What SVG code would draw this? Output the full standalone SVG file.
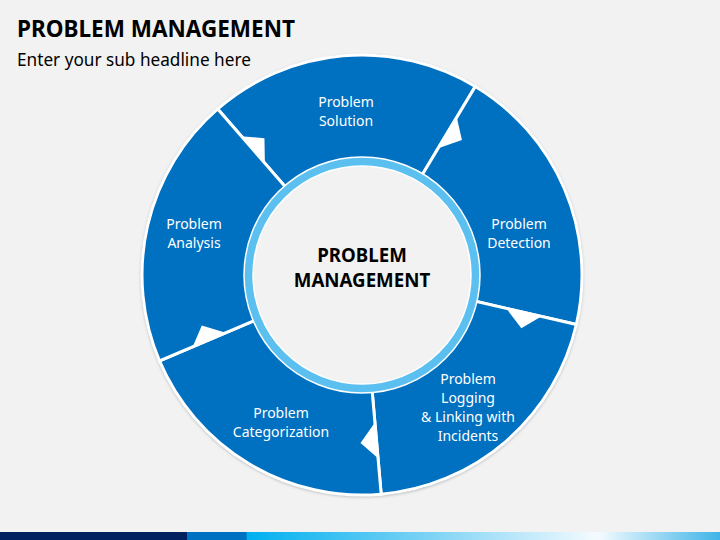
<svg xmlns="http://www.w3.org/2000/svg" width="720" height="540" viewBox="0 0 720 540">
<defs>
<linearGradient id="bar" x1="0" y1="0" x2="720" y2="0" gradientUnits="userSpaceOnUse">
<stop offset="0" stop-color="#002060"/>
<stop offset="0.259" stop-color="#002060"/>
<stop offset="0.26" stop-color="#0070c0"/>
<stop offset="0.342" stop-color="#0070c0"/>
<stop offset="0.343" stop-color="#00b0f0"/>
<stop offset="0.6" stop-color="#7fd3f5"/>
<stop offset="0.83" stop-color="#f4fbff"/>
<stop offset="1" stop-color="#3fb4e8"/>
</linearGradient>
<filter id="sh" x="-10%" y="-10%" width="120%" height="120%">
<feDropShadow dx="0" dy="1" stdDeviation="1.5" flood-color="#000" flood-opacity="0.25"/>
</filter>
</defs>
<style>
.seg{fill:#0070c0;stroke:#ffffff;stroke-width:3;stroke-linejoin:miter}
.lbl{font-family:"Noto Sans","Open Sans","Liberation Sans",sans-serif;font-size:14px;fill:#ffffff;text-anchor:middle}
.tab{fill:#ffffff}
.ctr{font-family:"Noto Sans","Open Sans","Liberation Sans",sans-serif;font-size:18.7px;font-weight:bold;fill:#000000;text-anchor:middle}
</style>
<rect x="0" y="0" width="720" height="540" fill="#f2f2f2"/>
<text x="17" y="37" font-family="'Noto Sans','Open Sans','Liberation Sans',sans-serif" font-size="22.5" font-weight="bold" fill="#000">PROBLEM MANAGEMENT</text>
<text x="17" y="66" font-family="'Noto Sans','Open Sans','Liberation Sans',sans-serif" font-size="17.2" fill="#000">Enter your sub headline here</text>
<rect x="0" y="532" width="720" height="8" fill="url(#bar)"/>
<circle cx="362" cy="275" r="221" fill="#0070c0" filter="url(#sh)"/>
<g id="solution">
<path class="seg" d="M217.67,108.96 A220,220 0 0 1 475.31,86.42 L418.65,180.71 A110,110 0 0 0 289.83,191.98 Z"/>
<text class="lbl" x="346" y="107">Problem</text>
<text class="lbl" x="346" y="126">Solution</text>
</g>
<g id="detection">
<path class="seg" d="M475.31,86.42 A220,220 0 0 1 576.36,324.49 L469.18,299.74 A110,110 0 0 0 418.65,180.71 Z"/>
<text class="lbl" x="519" y="229">Problem</text>
<text class="lbl" x="519" y="248">Detection</text>
</g>
<g id="logging">
<path class="seg" d="M576.36,324.49 A220,220 0 0 1 381.18,494.16 L371.59,384.58 A110,110 0 0 0 469.18,299.74 Z"/>
<text class="lbl" x="468" y="384">Problem</text>
<text class="lbl" x="468" y="403">Logging</text>
<text class="lbl" x="468" y="422">&amp; Linking with</text>
<text class="lbl" x="468" y="441">Incidents</text>
</g>
<g id="categorization">
<path class="seg" d="M381.18,494.16 A220,220 0 0 1 159.49,360.96 L260.74,317.98 A110,110 0 0 0 371.59,384.58 Z"/>
<text class="lbl" x="281" y="418">Problem</text>
<text class="lbl" x="281" y="437">Categorization</text>
</g>
<g id="analysis">
<path class="seg" d="M159.49,360.96 A220,220 0 0 1 217.67,108.96 L289.83,191.98 A110,110 0 0 0 260.74,317.98 Z"/>
<text class="lbl" x="194" y="229">Problem</text>
<text class="lbl" x="194" y="248">Analysis</text>
</g>
<g id="connectors">
<polygon class="tab" points="241.28,136.13 264.44,138.23 264.90,163.30"/>
<polygon class="tab" points="456.77,117.28 461.93,139.95 438.23,148.14"/>
<polygon class="tab" points="541.28,316.39 521.32,328.31 506.21,308.29"/>
<polygon class="tab" points="378.04,458.30 360.53,443.00 374.90,422.44"/>
<polygon class="tab" points="192.63,346.89 201.78,325.52 225.77,332.83"/>
</g>
<g id="center">
<circle cx="362" cy="275" r="118" fill="#5bc0f0" stroke="#ffffff" stroke-width="1.5"/>
<circle cx="362" cy="275" r="109" fill="#f2f2f2" stroke="#ffffff" stroke-width="1.5"/>
<text class="ctr" x="362" y="262">PROBLEM</text>
<text class="ctr" x="362" y="287">MANAGEMENT</text>
</g>
</svg>
